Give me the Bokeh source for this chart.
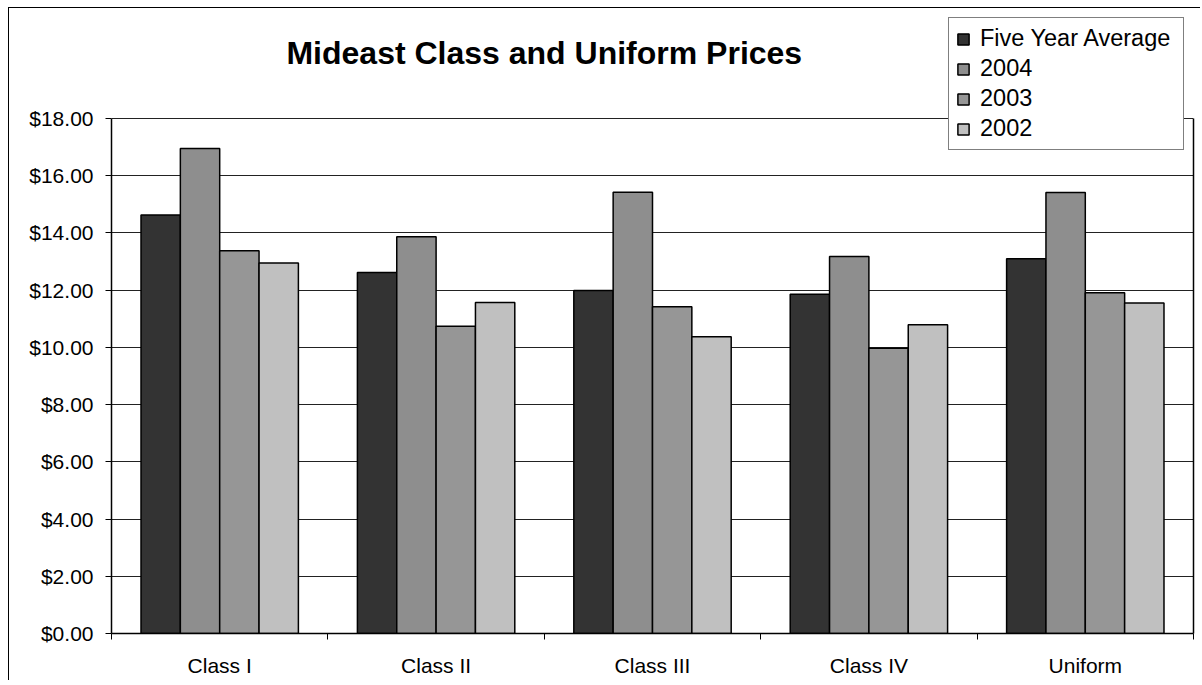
from bokeh.plotting import figure
from bokeh.models import (ColumnDataSource, FixedTicker, NumeralTickFormatter, Legend,
                          LegendItem, Label, Range1d, LinearAxis)
from bokeh.embed import file_html
from bokeh.resources import INLINE

categories = ["Class I", "Class II", "Class III", "Class IV", "Uniform"]
series_names = ["Five Year Average", "2004", "2003", "2002"]
five_year_avg = [14.63, 12.62, 11.99, 11.86, 13.10]
y2004 = [16.95, 13.87, 15.42, 13.18, 15.41]
y2003 = [13.38, 10.74, 11.42, 9.97, 11.91]
y2002 = [12.95, 11.57, 10.37, 10.79, 11.55]
colors = ["#333333", "#8E8E8E", "#969696", "#C0C0C0"]
y_ticks = [0, 2, 4, 6, 8, 10, 12, 14, 16, 18]
y_max = 18
title_text = "Mideast Class and Uniform Prices"

FONT = "Liberation Sans"

# layout in pixels
W, H = 1200, 680
frame_left, frame_right, frame_top, frame_bottom = 111, 1193, 8, 633
plot_top_px = 118  # where y_max sits
px_per_unit = (frame_bottom - plot_top_px) / y_max
y_end = (frame_bottom - frame_top) / px_per_unit

p = figure(width=W, height=H, output_backend="svg", toolbar_location=None,
           x_range=Range1d(0, len(categories)), y_range=Range1d(0, y_end),
           min_border_left=frame_left, min_border_right=W - frame_right,
           min_border_top=frame_top, min_border_bottom=H - frame_bottom,
           border_fill_color=None, background_fill_color=None)
p.outline_line_color = None
p.styles = {
    "background": "linear-gradient(#000,#000) 8px 7px / 1px 100% no-repeat, "
                  "linear-gradient(#000,#000) 8px 7px / 100% 1px no-repeat, white"
}

n = len(series_names)
bw = 1 / 5.5
renderers = []
for j, (name, vals, col) in enumerate(zip(series_names, [five_year_avg, y2004, y2003, y2002], colors)):
    xs = [i + 0.5 + (j - (n - 1) / 2) * bw for i in range(len(categories))]
    src = ColumnDataSource(dict(x=xs, top=vals))
    r = p.vbar(x="x", top="top", bottom=0, width=bw, source=src, fill_color=col,
               line_color="black", line_width=1.5)
    renderers.append((name, r))

# y axis
p.yaxis.bounds = (0, y_max)
p.yaxis.ticker = FixedTicker(ticks=y_ticks)
p.yaxis.formatter = NumeralTickFormatter(format="$0.00")
p.yaxis.major_label_text_font = FONT
p.yaxis.major_label_text_font_size = "21px"
p.yaxis.major_label_text_color = "black"
p.yaxis.major_tick_in = 0
p.yaxis.major_tick_out = 6
p.yaxis.minor_tick_line_color = None
p.yaxis.axis_line_color = "black"
p.yaxis.axis_line_width = 1.5
p.yaxis.major_tick_line_color = "black"
p.yaxis.major_label_standoff = 12

# right frame edge
raxis = LinearAxis(bounds=(0, y_max), ticker=FixedTicker(ticks=[]),
                   major_label_text_font_size="0px", axis_line_color="black",
                   axis_line_width=1.5, major_tick_line_color=None,
                   minor_tick_line_color=None)
p.add_layout(raxis, "right")

# x axis
centers = [i + 0.5 for i in range(len(categories))]
bounds = list(range(len(categories) + 1))
p.xaxis.ticker = FixedTicker(ticks=centers, minor_ticks=bounds)
p.xaxis.major_label_overrides = {c: lab for c, lab in zip(centers, categories)}
p.xaxis.major_tick_in = 0
p.xaxis.major_tick_out = 0
p.xaxis.minor_tick_in = 0
p.xaxis.minor_tick_out = 6
p.xaxis.minor_tick_line_color = "black"
p.xaxis.axis_line_color = "black"
p.xaxis.axis_line_width = 1.5
p.xaxis.major_label_text_font = FONT
p.xaxis.major_label_text_font_size = "21px"
p.xaxis.major_label_text_color = "black"
p.xaxis.major_label_standoff = 14

p.xgrid.visible = False
p.ygrid.ticker = FixedTicker(ticks=y_ticks)
p.ygrid.grid_line_color = "#222222"
p.ygrid.grid_line_width = 1

# title
p.add_layout(Label(x=len(categories) * 0.4, y=(frame_bottom - 52) / px_per_unit,
                   text=title_text, text_font=FONT, text_font_size="32px",
                   text_font_style="bold", text_align="center", text_baseline="middle",
                   text_color="black"))

legend = Legend(items=[LegendItem(label=name, renderers=[r]) for name, r in renderers],
                location=(948 - frame_left, frame_bottom - 150), orientation="vertical",
                label_text_font=FONT, label_text_font_size="23.5px", label_text_color="black",
                glyph_width=14, glyph_height=14, label_height=20, label_width=196,
                label_standoff=10, spacing=3, padding=7, margin=0,
                border_line_color="black", border_line_width=1,
                background_fill_color="white", background_fill_alpha=1)
p.add_layout(legend)

open("out.html", "w").write(file_html(p, INLINE))
